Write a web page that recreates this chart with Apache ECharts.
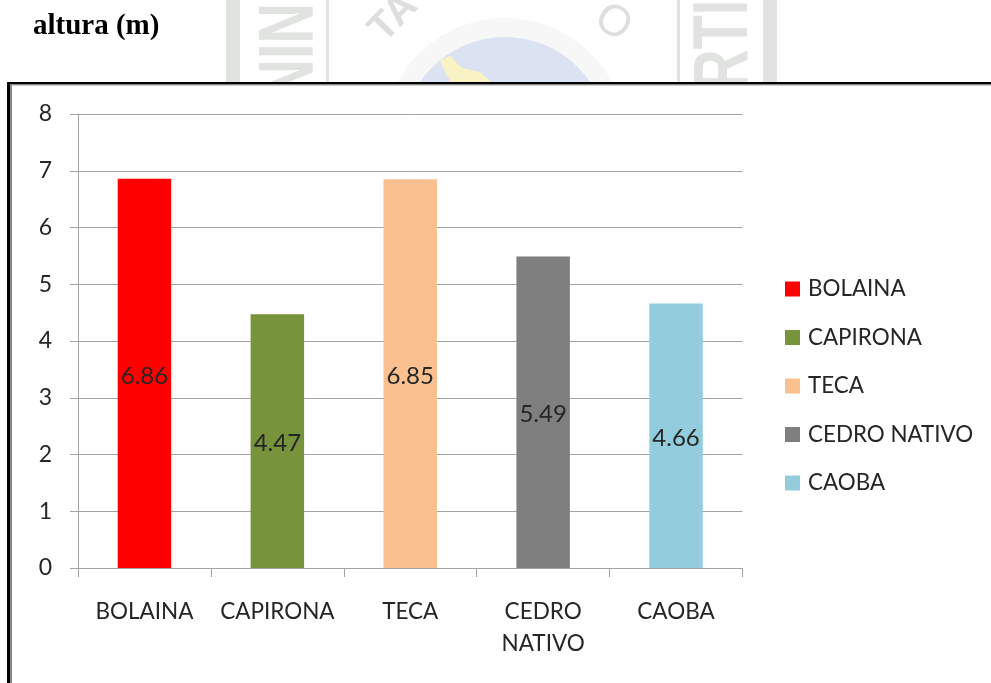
<!DOCTYPE html>
<html>
<head>
<meta charset="utf-8">
<style>html,body{margin:0;padding:0;background:#fff}#c{width:991px;height:683px}</style>
<script src="https://cdn.jsdelivr.net/npm/echarts@6/dist/echarts.min.js"></script>
</head>
<body>
<div id="c"></div>
<script>
const categories = ['BOLAINA', 'CAPIRONA', 'TECA', 'CEDRO NATIVO', 'CAOBA'];
const axisLabels = ['BOLAINA', 'CAPIRONA', 'TECA', 'CEDRO\nNATIVO', 'CAOBA'];
const heights = [6.86, 4.47, 6.85, 5.49, 4.66];
const colors = ['#ff0000', '#77933c', '#fac090', '#7f7f7f', '#93cddd'];
const yTicks = [0, 1, 2, 3, 4, 5, 6, 7, 8];
const heading = 'altura (m)';

const FONT = 'Lato';
const chart = echarts.init(document.getElementById('c'), null, {renderer: 'canvas'});

const wm = '#e0e3df';
const graphics = [
  // faint watermark behind the page, visible above the chart frame
  {type:'circle', z:-5, shape:{cx:505, cy:140, r:122}, style:{fill:'#f7f7f7'}},
  {type:'circle', z:-5, shape:{cx:505, cy:140, r:103}, style:{fill:'#dbe3f3'}},
  {type:'polygon', z:-5, shape:{points:[[440,60],[450,56],[462,68],[480,72],[494,84],[452,84],[446,74]]}, style:{fill:'#f8f2c4'}},
  {type:'rect', z:-5, shape:{x:226, y:0, width:14, height:84}, style:{fill:wm}},
  {type:'rect', z:-5, shape:{x:326, y:0, width:3, height:84}, style:{fill:wm}},
  {type:'rect', z:-5, shape:{x:677, y:0, width:3, height:84}, style:{fill:wm}},
  {type:'rect', z:-5, shape:{x:763, y:0, width:14, height:84}, style:{fill:wm}},
  {type:'text', z:-5, x:281, y:3, rotation:-Math.PI/2, scaleX:0.72, style:{text:'NIN', fill:wm, font:'bold 78px "Liberation Sans"', align:'left', verticalAlign:'middle'}},
  {type:'text', z:-5, x:725, y:90, rotation:Math.PI/2, scaleX:0.72, style:{text:'RTI', fill:wm, font:'bold 78px "Liberation Sans"', align:'left', verticalAlign:'middle'}},
  {type:'text', z:-5, x:394, y:18, rotation:0.8, style:{text:'TA', fill:'#dedede', font:'bold 40px "Liberation Sans"', align:'center', verticalAlign:'middle'}},
  {type:'text', z:-5, x:613, y:23, rotation:-0.6, style:{text:'O', fill:'#dedede', font:'44px "Liberation Sans"', align:'center', verticalAlign:'middle'}},
  // page heading
  {type:'text', z:1, x:33, y:27, style:{text:heading, fill:'#000', font:'bold 29px "Liberation Serif"', align:'left', verticalAlign:'middle'}},
  // chart frame
  {type:'rect', z:-4, shape:{x:8, y:83, width:983, height:600}, style:{fill:'#fff'}},
  {type:'rect', z:1, shape:{x:7, y:82, width:984, height:2.5}, style:{fill:'#000'}},
  {type:'rect', z:1, shape:{x:7, y:82, width:3, height:601}, style:{fill:'#000'}},
  {type:'rect', z:1, shape:{x:10, y:84.5, width:981, height:1}, style:{fill:'#999'}},
  {type:'rect', z:1, shape:{x:10, y:84.5, width:2, height:599}, style:{fill:'#8a8a8a'}}
];

chart.setOption({
  animation: false,
  backgroundColor: 'transparent',
  textStyle: {fontFamily: FONT},
  graphic: {elements: graphics},
  grid: {left: 78, top: 114, width: 664.5, height: 454, containLabel: false},
  legend: {
    orient: 'vertical', left: 780, top: 273, z: 8,
    itemWidth: 15, itemHeight: 15, itemGap: 26.5,
    icon: 'rect', selectedMode: false,
    data: categories,
    textStyle: {fontFamily: FONT, fontSize: 22.4, color: '#262626', lineHeight: 22, padding: [0, 0, 0, 3]}
  },
  xAxis: {
    type: 'category', data: axisLabels, z: 5,
    axisLine: {lineStyle: {color: '#a3a3a3', width: 1}},
    axisTick: {show: true, alignWithLabel: false, length: 9, lineStyle: {color: '#a3a3a3'}},
    axisLabel: {fontFamily: FONT, fontSize: 22.5, color: '#262626', margin: 28, lineHeight: 32, interval: 0}
  },
  yAxis: {
    type: 'value', min: yTicks[0], max: yTicks[yTicks.length - 1], interval: 1, z: 5,
    axisLine: {show: true, lineStyle: {color: '#a3a3a3', width: 1}},
    axisTick: {show: true, length: 8, lineStyle: {color: '#a3a3a3'}},
    splitLine: {show: true, lineStyle: {color: '#a3a3a3', width: 1}},
    axisLabel: {fontFamily: FONT, fontSize: 23, color: '#262626', margin: 26, padding: [2, 0, 0, 0]}
  },
  series: categories.map((name, i) => ({
    name,
    type: 'bar',
    stack: 'all',
    z: 6,
    barWidth: 53.5,
    itemStyle: {color: colors[i]},
    data: categories.map((_, j) => (j === i ? heights[i] : null)),
    label: {
      show: true, position: 'inside', offset: [0, 2.5],
      formatter: (p) => p.value == null ? '' : p.value.toFixed(2),
      fontFamily: FONT, fontSize: 24, color: '#262626'
    }
  }))
});
</script>
</body>
</html>
